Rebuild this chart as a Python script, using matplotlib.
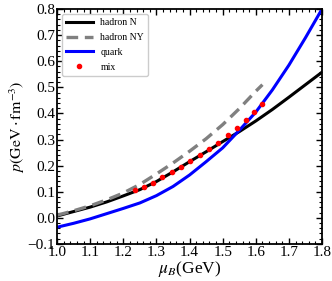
import matplotlib
matplotlib.use("Agg")
import matplotlib.pyplot as plt
from matplotlib.ticker import AutoMinorLocator, MultipleLocator

plt.rcParams['font.family'] = ['Liberation Serif', 'DejaVu Serif']
plt.rcParams['mathtext.fontset'] = 'stix'

# hadron N (nucleons only)
mu_N = [1.00, 1.05, 1.10, 1.15, 1.20, 1.25, 1.30, 1.35, 1.40, 1.45, 1.50, 1.55, 1.60, 1.65, 1.70, 1.75, 1.80]
p_N = [0.007, 0.024, 0.041, 0.061, 0.084, 0.108, 0.139, 0.176, 0.215, 0.253, 0.292, 0.330, 0.371, 0.415, 0.462, 0.510, 0.558]

# hadron NY (with hyperons)
mu_NY = [1.00, 1.05, 1.10, 1.15, 1.20, 1.25, 1.30, 1.35, 1.40, 1.45, 1.50, 1.55, 1.60, 1.62]
p_NY = [0.010, 0.027, 0.046, 0.069, 0.095, 0.128, 0.168, 0.210, 0.255, 0.303, 0.357, 0.418, 0.485, 0.510]

# quark
mu_q = [1.00, 1.05, 1.10, 1.15, 1.20, 1.25, 1.30, 1.35, 1.40, 1.45, 1.50, 1.55, 1.60, 1.65, 1.70, 1.75, 1.80]
p_q = [-0.036, -0.021, -0.004, 0.016, 0.036, 0.057, 0.085, 0.120, 0.164, 0.215, 0.268, 0.335, 0.405, 0.490, 0.585, 0.690, 0.800]

# mixed phase
mu_mix = [1.236, 1.263, 1.290, 1.317, 1.346, 1.375, 1.402, 1.430, 1.459, 1.487, 1.516, 1.543, 1.570, 1.596, 1.618]
p_mix = [0.107, 0.119, 0.134, 0.155, 0.174, 0.196, 0.216, 0.239, 0.264, 0.288, 0.317, 0.345, 0.375, 0.404, 0.436]

fig = plt.figure(figsize=(3.32, 2.81), dpi=100)
ax = fig.add_axes([0.172, 0.132, 0.798, 0.836])

ax.plot(mu_N, p_N, color='black', lw=2.2, label='hadron N')
ax.plot(mu_NY, p_NY, color='gray', lw=2.4, ls=(0, (3.5, 2)), label='hadron NY')
ax.plot(mu_q, p_q, color='blue', lw=2.2, label='quark')
ax.plot(mu_mix, p_mix, ls='none', marker='o', ms=3, color='red', label='mix')

ax.set_xlim(1.0, 1.8)
ax.set_ylim(-0.1, 0.8)
ax.xaxis.set_major_locator(MultipleLocator(0.1))
ax.yaxis.set_major_locator(MultipleLocator(0.1))
ax.xaxis.set_minor_locator(AutoMinorLocator(5))
ax.yaxis.set_minor_locator(AutoMinorLocator(5))
ax.tick_params(which='both', direction='in', top=True, right=True, labelsize=11, pad=1.5)
ax.tick_params(which='major', length=4, width=1)
ax.tick_params(which='minor', length=2, width=0.8)
for s in ax.spines.values():
    s.set_linewidth(1.3)

ax.set_xlabel(r'$\mu_B$(GeV)', fontsize=12.5, labelpad=0)
ax.set_ylabel(r'$p(\mathrm{GeV}\cdot\mathrm{fm}^{-3})$', fontsize=11.5, labelpad=0)

ax.legend(loc='upper left', fontsize=7, handlelength=2.7, handletextpad=0.8,
          numpoints=1, borderaxespad=0.5, borderpad=0.45, labelspacing=0.6,
          framealpha=1)

fig.savefig('out.png', dpi=100)
